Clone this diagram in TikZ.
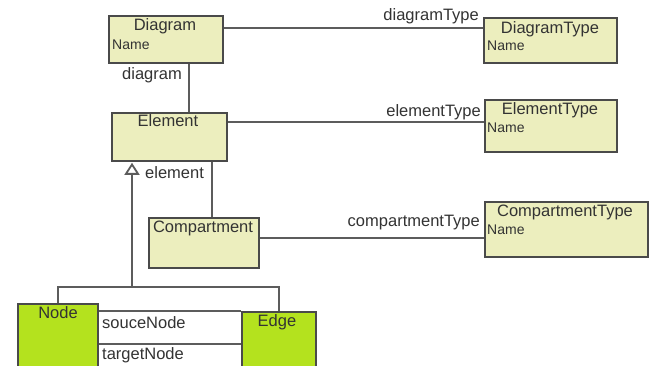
\documentclass[tikz,border=0pt]{standalone}
\usepackage{fontspec}
\setmainfont{Liberation Sans}
\usetikzlibrary{arrows.meta,calc}
\definecolor{clsfill}{HTML}{ECEEBE}
\definecolor{leaffill}{HTML}{B4E21E}
\definecolor{clsline}{HTML}{4A4A4A}
\definecolor{txt}{HTML}{333333}
\begin{document}
\begin{tikzpicture}[x=1pt,y=-1pt,
  cls/.style={draw=clsline,line width=1.8pt,fill=clsfill,anchor=north west,inner sep=0pt},
  leaf/.style={cls,fill=leaffill},
  title/.style={text=txt,font=\fontsize{16.5}{18}\selectfont,inner sep=0pt},
  attr/.style={text=txt,font=\fontsize{14}{16}\selectfont,inner sep=0pt,anchor=west},
  role/.style={text=txt,font=\fontsize{16.5}{18}\selectfont,inner sep=0pt},
  link/.style={draw=clsline!90,line width=1.1pt}]
\clip (0,0) rectangle (649,366);
\fill[white] (0,0) rectangle (649,366);

% classes
\node[cls,minimum width=114pt,minimum height=47pt] (diagram) at (108,15) {};
\node[title] (diagramT) at (165,26) {Diagram};
\node[attr] (diagramA) at (112,45) {Name};

\node[cls,minimum width=133pt,minimum height=45pt] (dtype) at (483,17) {};
\node[title] (dtypeT) at (550,29) {DiagramType};
\node[attr] (dtypeA) at (487,46) {Name};

\node[cls,minimum width=115pt,minimum height=48pt] (element) at (111,112) {};
\node[title] (elementT) at (168,121) {Element};

\node[cls,minimum width=132pt,minimum height=52pt] (etype) at (484,99) {};
\node[title] (etypeT) at (550,110) {ElementType};
\node[attr] (etypeA) at (487,128) {Name};

\node[cls,minimum width=110pt,minimum height=50pt] (comp) at (148,217) {};
\node[title] (compT) at (203,228) {Compartment};

\node[cls,minimum width=163pt,minimum height=55pt] (ctype) at (484,201) {};
\node[title] (ctypeT) at (565,212) {CompartmentType};
\node[attr] (ctypeA) at (487,230) {Name};

\node[leaf,minimum width=80pt,minimum height=80pt] (nodebox) at (17,303) {};
\node[title] (nodeT) at (58,313) {Node};

\node[leaf,minimum width=74pt,minimum height=70pt] (edgebox) at (241,311) {};
\node[title] (edgeT) at (277,322) {Edge};

% helper coordinates for connector positions
\coordinate (xdia) at (189,0);
\coordinate (xcmp) at (212,0);
\coordinate (gen) at (132,287);
\coordinate (yd) at (0,28);
\coordinate (ye) at (0,122);
\coordinate (yc) at (0,238);
\coordinate (ys) at (0,311);
\coordinate (yt) at (0,344);

% associations
\draw[link] (diagram.east |- yd) -- (dtype.west |- yd);
\draw[link] (element.east |- ye) -- (etype.west |- ye);
\draw[link] (comp.east |- yc) -- (ctype.west |- yc);
\draw[link] (diagram.south -| xdia) -- (element.north -| xdia);
\draw[link] (element.south -| xcmp) -- (comp.north -| xcmp);
\draw[link] (nodebox.east |- ys) -- (edgebox.west |- ys);
\draw[link] (nodebox.east |- yt) -- (edgebox.west |- yt);

% generalization
\draw[link,line width=1.3pt] (nodebox.north) -- (nodebox.north |- gen) -| (edgebox.north);
\draw[link,line width=1.5pt,-{Triangle[open,width=15pt,length=12pt,line width=1.8pt]}] (gen) -- ([yshift=-1pt]element.south -| gen);

% role names
\node[role,anchor=east] (rDiagram) at (182,75) {diagram};
\node[role,anchor=east] (rDtype) at (479,16) {diagramType};
\node[role,anchor=east] (rEtype) at (481,112) {elementType};
\node[role,anchor=west] (rElement) at (145,173) {element};
\node[role,anchor=east] (rCtype) at (480,223) {compartmentType};
\node[role,anchor=west] (rSource) at (102,323) {souceNode};
\node[role,anchor=west] (rTarget) at (102,355) {targetNode};
\end{tikzpicture}
\end{document}
